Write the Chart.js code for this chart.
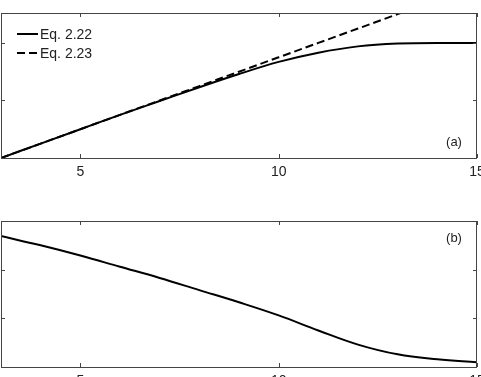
<!DOCTYPE html>
<html>
<head>
<meta charset="utf-8">
<script src="https://cdn.jsdelivr.net/npm/chart.js@4.4.1/dist/chart.umd.min.js"></script>
<style>
  html, body { margin: 0; padding: 0; background: #fff; overflow: hidden; width: 481px; height: 377px; }
  .panel { position: absolute; left: 0; width: 481px; }
</style>
</head>
<body>
<div class="panel" style="top:0;height:190px"><canvas id="chartA" width="481" height="190"></canvas></div>
<div class="panel" style="top:200px;height:200px"><canvas id="chartB" width="481" height="200"></canvas></div>
<script>
// values
const xValues = [3, 4, 5, 6, 7, 8, 9, 10, 11, 12, 13, 14, 15];
const eq222 = [0, 0.25, 0.5, 0.75, 0.99, 1.23, 1.46, 1.67, 1.83, 1.94, 1.99, 2.0, 2.0];
const eq223 = [0, 0.25, 0.5, 0.75, 1.0, 1.25, 1.5, 1.75, 2.0, 2.25, 2.5, 2.75, 3.0];
const panelB = [2.69, 2.5, 2.29, 2.06, 1.83, 1.58, 1.33, 1.06, 0.75, 0.46, 0.26, 0.16, 0.1];

const xTicks = [5, 10, 15];
const yTicksA = [0, 1, 2];
const yTicksB = [0, 1, 2, 3];

const legendNames = ['Eq. 2.22', 'Eq. 2.23'];

const toPoints = (ys) => xValues.map((x, i) => ({ x: x, y: ys[i] }));

// frame and inward ticks on all four sides
const framePlugin = {
    id: 'frame',
    afterDraw(chart, args, opts) {
        const { ctx, chartArea: a, scales } = chart;
        ctx.save();
        ctx.strokeStyle = '#444';
        ctx.lineWidth = 1;
        ctx.strokeRect(a.left + 0.5, a.top + 0.5, a.right - a.left - 1, a.bottom - a.top);
        ctx.beginPath();
        xTicks.forEach(v => {
            const px = Math.round(scales.x.getPixelForValue(v)) + 0.5;
            ctx.moveTo(px, a.top); ctx.lineTo(px, a.top + 4);
            ctx.moveTo(px, a.bottom); ctx.lineTo(px, a.bottom - 4);
        });
        opts.yTicks.forEach(v => {
            const py = Math.round(scales.y.getPixelForValue(v)) + 0.5;
            ctx.moveTo(a.left, py); ctx.lineTo(a.left + 4, py);
            ctx.moveTo(a.right, py); ctx.lineTo(a.right - 4, py);
        });
        ctx.stroke();

        ctx.fillStyle = '#222';
        ctx.font = '13px "Liberation Sans", Arial, sans-serif';
        ctx.textAlign = 'center';
        ctx.textBaseline = 'middle';
        ctx.fillText(opts.tag, a.right - 23, opts.tagY);

        if (opts.legend) {
            ctx.font = '14px "Liberation Sans", Arial, sans-serif';
            ctx.textAlign = 'left';
            chart.data.datasets.forEach((ds, i) => {
                const y = a.top + 21 + i * 19;
                ctx.strokeStyle = ds.borderColor;
                ctx.lineWidth = 2;
                ctx.setLineDash(ds.borderDash || []);
                ctx.beginPath();
                ctx.moveTo(a.left + 16, y);
                ctx.lineTo(a.left + 37, y);
                ctx.stroke();
                ctx.setLineDash([]);
                ctx.fillText(ds.label, a.left + 39, y + 1);
            });
        }
        ctx.restore();
    }
};

function makeOptions(yMax, axisHeight, padTop, frameOpts) {
    return {
        responsive: false,
        animation: false,
        layout: { padding: { left: 1, right: 4, top: padTop, bottom: 0 } },
        plugins: {
            legend: { display: false },
            tooltip: { enabled: false },
            frame: frameOpts
        },
        elements: { point: { radius: 0 } },
        scales: {
            x: {
                type: 'linear', min: 3, max: 15,
                grid: { display: false, drawTicks: false },
                border: { display: false },
                ticks: { color: '#222', padding: 6, font: { size: 14, family: '"Liberation Sans", Arial, sans-serif' } },
                afterBuildTicks: (s) => { s.ticks = xTicks.map(v => ({ value: v })); },
                afterFit: (s) => { s.height = axisHeight; s.paddingLeft = 0; s.paddingRight = 0; }
            },
            y: { display: false, min: 0, max: yMax }
        }
    };
}

new Chart(document.getElementById('chartA'), {
    type: 'line',
    data: {
        datasets: [
            { label: legendNames[0], data: toPoints(eq222), borderColor: '#000', borderWidth: 2, cubicInterpolationMode: 'monotone' },
            { label: legendNames[1], data: toPoints(eq223), borderColor: '#000', borderWidth: 2, borderDash: [8, 4] }
        ]
    },
    options: makeOptions(2.52, 32, 13, { yTicks: yTicksA, tag: '(a)', tagY: 142, legend: true }),
    plugins: [framePlugin]
});

new Chart(document.getElementById('chartB'), {
    type: 'line',
    data: {
        datasets: [
            { label: 'b', data: toPoints(panelB), borderColor: '#000', borderWidth: 2, tension: 0.4 }
        ]
    },
    options: makeOptions(3, 33, 21, { yTicks: yTicksB, tag: '(b)', tagY: 38, legend: false }),
    plugins: [framePlugin]
});
</script>
</body>
</html>
